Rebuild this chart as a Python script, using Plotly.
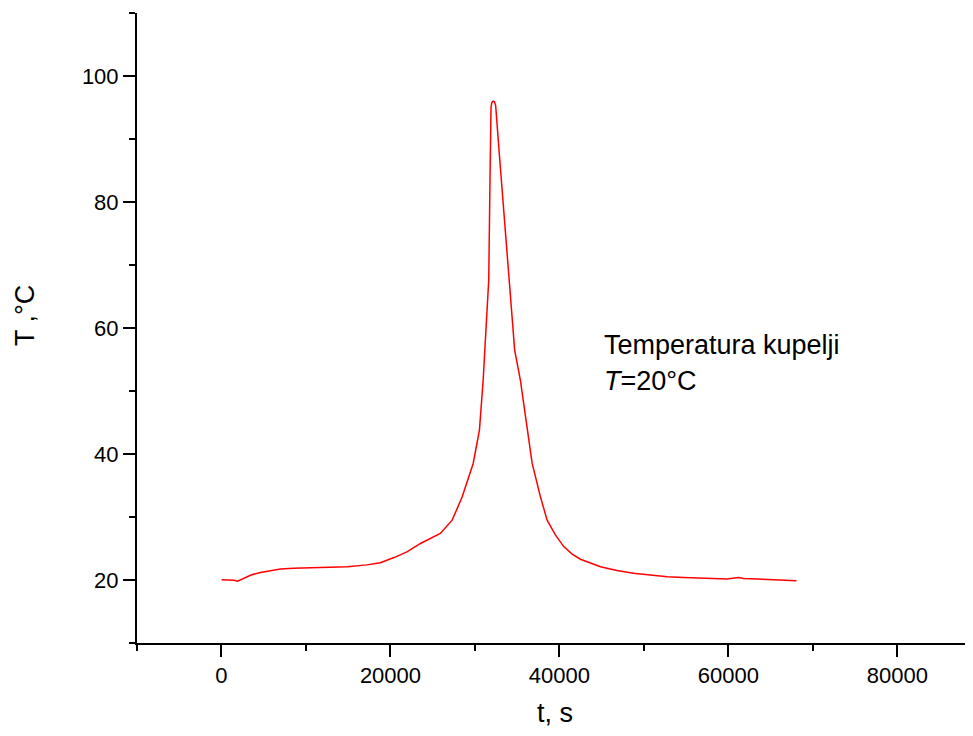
import plotly.graph_objects as go

t_s = [0, 1000, 1500, 1900, 2500, 3500, 4600, 5800, 7000, 8500, 10900, 13000, 14900,
       17200, 18800, 20500, 22000, 23550, 24500, 25900, 27300, 28490, 29790, 30530,
       30970, 31300, 31630, 31780, 31900, 32000, 32150, 32300, 32450, 33000, 33500,
       34000, 34700, 35380, 36180, 36770, 37750, 38540, 39500, 40510, 41500, 42480,
       44850, 46800, 48760, 50700, 52750, 54700, 56690, 58300, 59840, 60700, 61230,
       61800, 62960, 64580, 66300, 68050]
temp_c = [20.05, 20.0, 19.95, 19.8, 20.2, 20.8, 21.2, 21.5, 21.75, 21.85, 21.95, 22.0, 22.1,
          22.4, 22.75, 23.6, 24.5, 25.8, 26.4, 27.4, 29.5, 33.2, 38.5, 43.8,
          51.7, 59.0, 67.6, 83.5, 95.0, 95.8, 96.0, 95.9, 95.3, 85.6, 76.6,
          67.6, 56.5, 51.7, 43.8, 38.5, 33.2, 29.5, 27.2, 25.3, 24.1, 23.3,
          22.1, 21.5, 21.06, 20.75, 20.5, 20.4, 20.3, 20.2, 20.15, 20.3, 20.4,
          20.25, 20.2, 20.1, 20.05, 19.9]

x_range = [-10000, 88000]
y_range = [10, 110]
x_label = "t, s"
y_label = "T ,°C"
note_line1 = "Temperatura kupelji"
note_line2 = "<i>T</i>=20°C"

font_family = "Liberation Sans, Arial, sans-serif"

fig = go.Figure()
fig.add_trace(go.Scatter(x=t_s, y=temp_c, mode="lines",
                         line=dict(color="#ff0000", width=1.5), showlegend=False))

axis_common = dict(
    showgrid=False, zeroline=False, showline=True, linecolor="black", linewidth=2,
    ticks="outside", ticklen=12, tickwidth=2, tickcolor="black",
    tickfont=dict(family=font_family, size=22, color="black"),
)

fig.update_xaxes(range=x_range, tick0=0, dtick=20000, tickformat="d",
                 minor=dict(ticks="outside", ticklen=6, tickwidth=2, tickcolor="black", dtick=10000, tick0=0),
                 **axis_common)
fig.update_yaxes(range=y_range, tick0=0, dtick=20,
                 minor=dict(ticks="outside", ticklen=6, tickwidth=2, tickcolor="black", dtick=10, tick0=0),
                 **axis_common)

fig.add_annotation(text=x_label, xref="paper", yref="paper", x=0.5045, y=0,
                   yshift=-70, xanchor="center", yanchor="middle", showarrow=False,
                   font=dict(family=font_family, size=27, color="black"))
fig.add_annotation(text=y_label, xref="paper", yref="paper", x=0, y=0.519,
                   xshift=-112, xanchor="center", yanchor="middle", textangle=-90, showarrow=False,
                   font=dict(family=font_family, size=27, color="black"))
fig.add_annotation(text=note_line1, x=45000, y=57.3, xanchor="left", yanchor="middle",
                   showarrow=False, font=dict(family=font_family, size=27, color="black"))
fig.add_annotation(text=note_line2, x=45000, y=51.6, xanchor="left", yanchor="middle",
                   showarrow=False, font=dict(family=font_family, size=27, color="black"))

fig.update_layout(
    width=957, height=720,
    margin=dict(l=129, r=0, t=5, b=85),
    plot_bgcolor="white", paper_bgcolor="white",
)

fig.write_html("out.html")
